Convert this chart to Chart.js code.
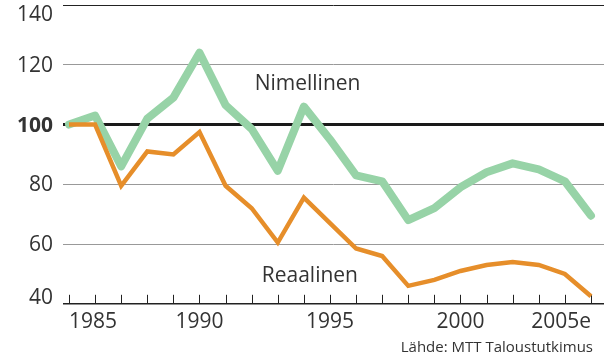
<!DOCTYPE html>
<html>
<head>
<meta charset="utf-8">
<script src="https://cdn.jsdelivr.net/npm/chart.js@4"></script>
<style>
  html, body { margin: 0; padding: 0; background: #fff; }
  #wrap { width: 604px; height: 356px; }
</style>
</head>
<body>
<div id="wrap"><canvas id="chart" width="604" height="356"></canvas></div>
<script>
// --- Données ---
const years = [1985, 1986, 1987, 1988, 1989, 1990, 1991, 1992, 1993, 1994, 1995,
               1996, 1997, 1998, 1999, 2000, 2001, 2002, 2003, 2004, 2005];
const nimellinen = [100, 103, 86, 102, 109, 124, 106.5, 98.5, 84.5, 106, 95,
                    83, 81, 68, 72, 79, 84, 87, 85, 81, 69.5];
const reaalinen = [100, 100, 79.5, 91, 90, 97.5, 79.5, 72, 60.5, 75.5, 67,
                   58.5, 56, 46, 48, 51, 53, 54, 53, 50, 42.5];
const yTicks = [40, 60, 80, 100, 120, 140];
const xLabelYears = [1985, 1990, 1995, 2000, 2005];
const xLabelTexts = ['1985', '1990', '1995', '2000', '2005e'];
const sourceText = 'Lähde: MTT Taloustutkimus';

const FONT = '"Open Sans", "Noto Sans", sans-serif';
const TEXT = '#333333';
const GREEN = '#97d3a7';
const ORANGE = '#e68e2a';

// étiquettes des séries, placées en unités de données
const seriesLabels = [
    { text: 'Nimellinen', x: 1994.14, y: 111.5 },
    { text: 'Reaalinen', x: 1994.23, y: 47.4 }
];

const toPoints = vals => vals.map((v, i) => ({ x: years[i], y: v }));

// petits traits vers le haut sur l'axe X, étiquettes Y, texte
const decorPlugin = {
    id: 'decor',
    beforeDatasetsDraw(chart) {
        const { ctx, chartArea, scales } = chart;
        const x = scales.x, y = scales.y;
        ctx.save();
        ctx.strokeStyle = '#222';
        ctx.lineWidth = 1;
        years.forEach(yr => {
            const px = Math.round(x.getPixelForValue(yr)) + 0.5;
            ctx.beginPath();
            ctx.moveTo(px, chartArea.bottom);
            ctx.lineTo(px, chartArea.bottom - 9);
            ctx.stroke();
        });
        // étiquettes de l'axe Y (140 et 40 restent dans la zone du graphe)
        ctx.fillStyle = TEXT;
        ctx.textAlign = 'right';
        ctx.textBaseline = 'middle';
        yTicks.forEach(v => {
            ctx.font = (v === 100 ? 'bold ' : '') + '21px ' + FONT;
            let py = y.getPixelForValue(v) + 1;
            py = Math.max(py, chartArea.top + 10);
            py = Math.min(py, chartArea.bottom - 6);
            ctx.fillText(String(v), chartArea.left - 10, py);
        });
        ctx.restore();
    },
    afterDatasetsDraw(chart) {
        const { ctx, scales } = chart;
        ctx.save();
        ctx.fillStyle = TEXT;
        ctx.font = '21px ' + FONT;
        ctx.textAlign = 'center';
        ctx.textBaseline = 'alphabetic';
        seriesLabels.forEach(l => {
            ctx.fillText(l.text, scales.x.getPixelForValue(l.x), scales.y.getPixelForValue(l.y));
        });
        ctx.font = '15px ' + FONT;
        ctx.textAlign = 'right';
        ctx.fillText(sourceText, 593, 352);
        ctx.restore();
    }
};

const ctx = document.getElementById('chart').getContext('2d');
new Chart(ctx, {
    type: 'line',
    data: {
        datasets: [
            {
                label: 'Reaalinen',
                data: toPoints(reaalinen),
                borderColor: ORANGE,
                borderWidth: 4.5,
                borderJoinStyle: 'miter',
                borderCapStyle: 'butt',
                pointRadius: 0,
                tension: 0,
                order: 0
            },
            {
                label: 'Nimellinen',
                data: toPoints(nimellinen),
                borderColor: GREEN,
                borderWidth: 8,
                borderJoinStyle: 'round',
                borderCapStyle: 'round',
                pointRadius: 0,
                tension: 0,
                order: 1
            }
        ]
    },
    options: {
        responsive: false,
        animation: false,
        layout: { padding: { top: 5, right: 0, left: 0, bottom: 23 } },
        plugins: {
            legend: { display: false },
            tooltip: { enabled: false }
        },
        scales: {
            x: {
                type: 'linear',
                min: 1984.77,
                max: 2005.5,
                afterBuildTicks: s => { s.ticks = years.map(v => ({ value: v })); },
                grid: { display: false },
                border: { display: false },
                ticks: {
                    autoSkip: false,
                    maxRotation: 0,
                    align: 'inner',
                    padding: -2,
                    color: TEXT,
                    font: { family: FONT, size: 21 },
                    callback: v => {
                        const i = xLabelYears.indexOf(v);
                        return i >= 0 ? xLabelTexts[i] : '';
                    }
                }
            },
            y: {
                min: 40,
                max: 140,
                afterBuildTicks: s => { s.ticks = yTicks.map(v => ({ value: v })); },
                afterFit: s => { s.width = 63; },
                border: { display: false },
                ticks: { display: false },
                grid: {
                    drawTicks: false,
                    color: c => {
                        const v = c.tick.value;
                        if (v === 100) return '#1a1a1a';
                        if (v === 140 || v === 40) return '#222222';
                        return '#999999';
                    },
                    lineWidth: c => {
                        const v = c.tick.value;
                        if (v === 100) return 3;
                        if (v === 40) return 1.4;
                        return 1;
                    }
                }
            }
        }
    },
    plugins: [decorPlugin]
});
</script>
</body>
</html>
